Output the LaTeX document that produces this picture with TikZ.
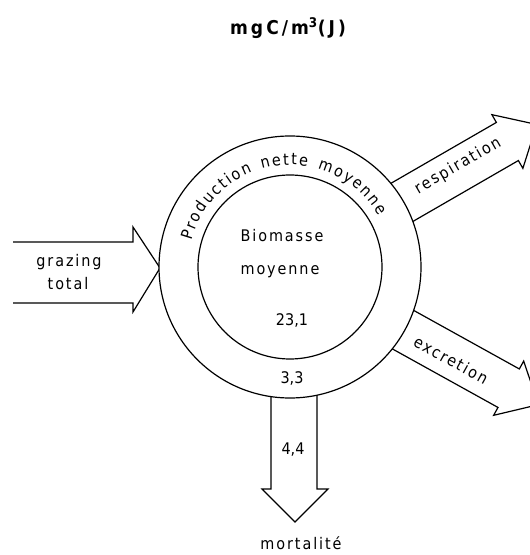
\documentclass[tikz,border=0pt]{standalone}
\usepackage{fontspec}
\setsansfont[LetterSpace=12]{DejaVu Sans Condensed}
\newfontfamily\titlefont[LetterSpace=16]{DejaVu Sans Condensed}
\newfontfamily\numfont{DejaVu Sans Condensed}
\usetikzlibrary{calc, positioning, decorations.text}

\begin{document}
\begin{tikzpicture}[x=1pt, y=1pt, line width=1.2pt, every node/.style={font=\sffamily\fontsize{16}{18}\selectfont, inner sep=0pt}]
    \useasboundingbox (0,0) rectangle (530,555);
    \coordinate (c) at (290,288);

    \draw (13,313) -- (133,313) -- (133,328) -- (160,287) -- (133,243) -- (133,252) -- (13,252);
    \draw (271,170) -- (271,66) -- (262,66) -- (295,33) -- (328,66) -- (317,66) -- (317,170);
    \begin{scope}[shift={(c)}, rotate=30]
        \draw (120,22) -- (251,22) -- (251,31) -- (285,0) -- (251,-31) -- (251,-22) -- (120,-22);
    \end{scope}
    \begin{scope}[shift={(c)}, rotate=-29]
        \draw (120,22) -- (250,22) -- (250,31) -- (284,0) -- (250,-31) -- (250,-22) -- (120,-22);
    \end{scope}

    \draw[fill=white] (c) circle (131);
    \draw (c) circle (92);

    \path[decorate, decoration={text along path, text align=fit to path,
        text={|\sffamily\fontsize{16}{18}\selectfont|Production nette moyenne}}]
        ($(c)+(165:102)$) arc[start angle=165, end angle=30, radius=102];

    \node (title) at (288,527) {\titlefont\bfseries\fontsize{19}{21}\selectfont mgC/m\textsuperscript{3}(J)};
    \node (grazing) at (69,293) {grazing};
    \node (total) at (68,271) {total};
    \node (biomasse) at (282,319) {Biomasse};
    \node (moyenne) at (280,283) {moyenne};
    \node (stock) at (292,235) {\numfont 23,1};
    \node (prod) at (292,177) {\numfont 3,3};
    \node (mort) at (293,105) {\numfont 4,4};
    \node (mortalite) at (301,12) {mortalité};
    \node[rotate=30] (resp) at ($(c)+(31:196)$) {respiration};
    \node[rotate=-29] (excr) at ($(c)+(-30:186)$) {excretion};
\end{tikzpicture}
\end{document}
